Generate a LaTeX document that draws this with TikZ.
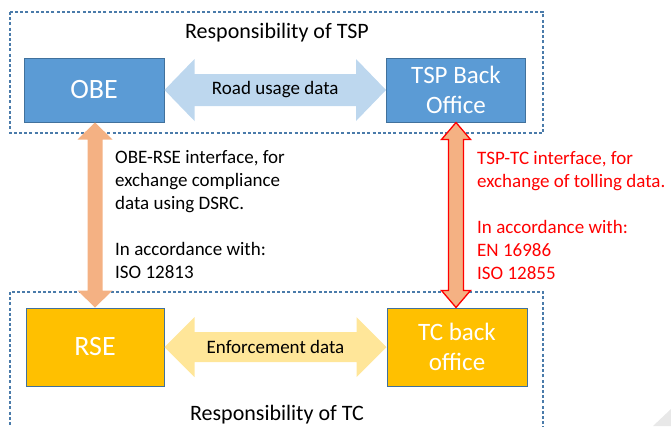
\documentclass[tikz,border=0pt]{standalone}
\usepackage{fontspec}
\setmainfont{Carlito}
\usetikzlibrary{calc}
\definecolor{boxblue}{HTML}{5B9BD5}
\definecolor{boxedge}{HTML}{41719C}
\definecolor{boxgold}{HTML}{FFC000}
\definecolor{arrblue}{HTML}{BDD7EE}
\definecolor{arryel}{HTML}{FFE699}
\definecolor{arrorange}{HTML}{F4B183}
\definecolor{dashcol}{HTML}{4A7BAA}
\definecolor{redtext}{HTML}{FF0000}
\definecolor{curl}{HTML}{E8E8E8}
% horizontal double arrow: from, to, half body, half head, head length, style
\newcommand\hdblarrow[6]{%
  \path[#6] (#1) -- ([xshift=#5pt,yshift=#4pt]#1) -- ([xshift=#5pt,yshift=#3pt]#1)
   -- ([xshift=-#5pt,yshift=#3pt]#2) -- ([xshift=-#5pt,yshift=#4pt]#2) -- (#2)
   -- ([xshift=-#5pt,yshift=-#4pt]#2) -- ([xshift=-#5pt,yshift=-#3pt]#2)
   -- ([xshift=#5pt,yshift=-#3pt]#1) -- ([xshift=#5pt,yshift=-#4pt]#1) -- cycle;}
% vertical double arrow: upper, lower, half body, half head, head length, style
\newcommand\vdblarrow[6]{%
  \path[#6] (#1) -- ([xshift=#4pt,yshift=-#5pt]#1) -- ([xshift=#3pt,yshift=-#5pt]#1)
   -- ([xshift=#3pt,yshift=#5pt]#2) -- ([xshift=#4pt,yshift=#5pt]#2) -- (#2)
   -- ([xshift=-#4pt,yshift=#5pt]#2) -- ([xshift=-#3pt,yshift=#5pt]#2)
   -- ([xshift=-#3pt,yshift=-#5pt]#1) -- ([xshift=-#4pt,yshift=-#5pt]#1) -- cycle;}
\begin{document}
\begin{tikzpicture}[x=1pt,y=-1pt,
  box/.style={draw=boxedge, line width=1pt, text=white, align=center, inner sep=0pt},
  bigtext/.style={font=\fontsize{28}{34}\selectfont},
  twoline/.style={font=\fontsize{25}{30}\selectfont},
  region/.style={draw=dashcol, line width=1.2pt, dash pattern=on 3pt off 2.2pt},
  title/.style={anchor=base, inner sep=0pt, font=\fontsize{22}{26}\selectfont},
  label/.style={inner sep=0pt, font=\fontsize{19}{23}\selectfont},
  note/.style={anchor=base west, inner sep=0pt, font=\fontsize{19}{23}\selectfont}]
\useasboundingbox (0,0) rectangle (671,426);
\fill[curl] (653,426) -- (671,409) -- (671,426) -- cycle;
% responsibility regions
\draw[region] (10,12) rectangle (543,133);
\draw[region] (10,292) rectangle (543,440);
\node[title] (ttsp) at (277,38) {Responsibility of TSP};
\node[title] (ttc) at (277,420) {Responsibility of TC};
% boxes
\node[box, bigtext, fill=boxblue, minimum width=140pt, minimum height=64pt] (obe) at (94,90) {OBE};
\node[box, twoline, fill=boxblue, minimum width=139pt, minimum height=64pt] (tsp) at (456,90) {TSP Back\\Office};
\node[box, bigtext, fill=boxgold, minimum width=138pt, minimum height=78pt] (rse) at (95,347) {RSE};
\node[box, twoline, fill=boxgold, minimum width=140pt, minimum height=78pt] (tc) at (457,347) {TC back\\office};
% horizontal arrows
\hdblarrow{obe.east}{tsp.west}{16}{31}{30}{fill=arrblue}
\node[label] (road) at ($(obe.east)!0.5!(tsp.west)$) {Road usage data};
\hdblarrow{rse.east}{tc.west}{15}{30}{30}{fill=arryel}
\node[label] (enf) at ($(rse.east)!0.5!(tc.west)$) {Enforcement data};
% vertical arrows
\coordinate (lt) at (obe.south -| rse.north);
\vdblarrow{lt}{rse.north}{7.5}{17.5}{17}{fill=arrorange}
\coordinate (rt) at (tsp.south);
\coordinate (rb) at (tsp.south |- tc.north);
\vdblarrow{rt}{rb}{7.5}{14.5}{17}{fill=arrorange, draw=redtext, line width=1.3pt, line join=miter}
% notes
\node[note] (obersetxt) at (115,163) {\parbox[t]{230pt}{\raggedright OBE-RSE interface, for\\exchange compliance\\data using DSRC.\\[23pt]In accordance with:\\ISO 12813}};
\node[note, text=redtext] (tsptctxt) at (477,164) {\parbox[t]{200pt}{\raggedright TSP-TC interface, for\\exchange of tolling data.\\[23pt]In accordance with:\\EN 16986\\ISO 12855}};
\end{tikzpicture}
\end{document}
